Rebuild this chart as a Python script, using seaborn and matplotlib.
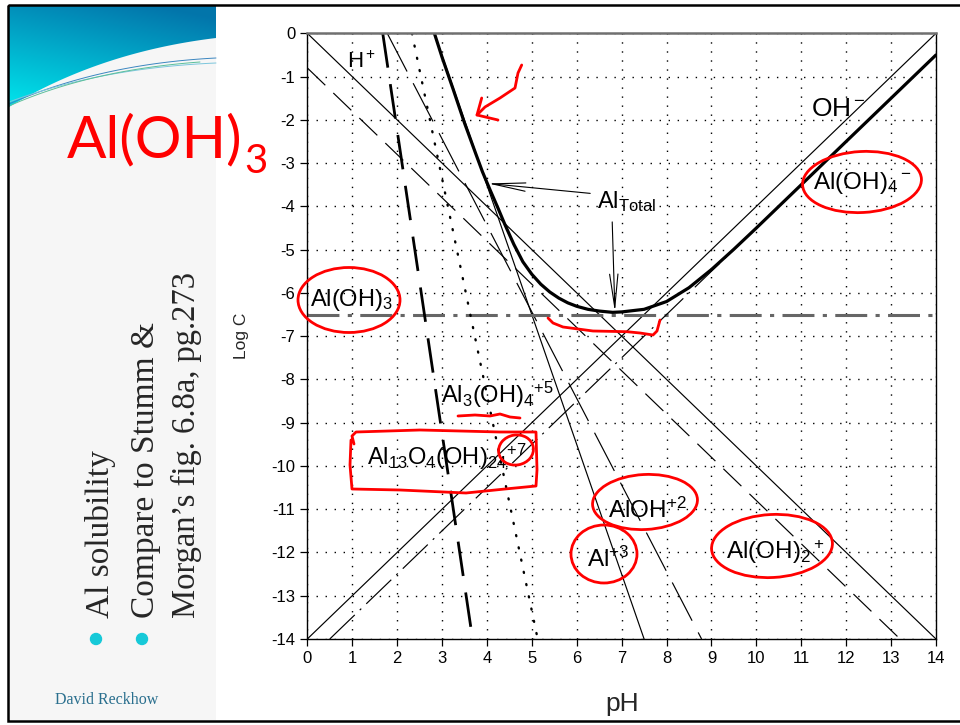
import numpy as np
import pandas as pd
import seaborn as sns
import matplotlib.pyplot as plt
from matplotlib.patches import Ellipse, Rectangle, Circle, Polygon

sns.set_style("ticks")
plt.rcParams["font.family"] = ["Liberation Sans", "DejaVu Sans"]
plt.rcParams["mathtext.fontset"] = "custom"
plt.rcParams["mathtext.rm"] = "Liberation Sans"
plt.rcParams["mathtext.it"] = "Liberation Sans:italic"
plt.rcParams["mathtext.bf"] = "Liberation Sans:bold"
plt.rcParams["mathtext.default"] = "rm"
plt.rcParams["axes.unicode_minus"] = False
plt.rcParams["lines.scale_dashes"] = False

# species lines (pH, log C)
ph_h = [0, 14]
logc_h = [0, -14]
ph_oh = [0, 14]
logc_oh = [-14, 0]
ph_al = [2.83, 7.5]
logc_al = [0, -14]
ph_aloh = [1.78, 8.78]
logc_aloh = [0, -14]
ph_aloh2 = [0, 13.2]
logc_aloh2 = [-0.8, -14]
ph_aloh3 = [0, 14]
logc_aloh3 = [-6.5, -6.5]
ph_aloh4 = [0.5, 14]
logc_aloh4 = [-14, -0.5]
ph_al3oh4 = [2.33, 5.13]
logc_al3oh4 = [0, -14]
ph_al13 = [1.68, 3.68]
logc_al13 = [0, -14]

# total dissolved Al (thick curve)
ph_total = [2.83, 3.0, 3.25, 3.5, 3.75, 3.9, 4.07, 4.25, 4.4, 4.6, 4.8, 5.0,
            5.2, 5.4, 5.6, 5.8, 6.0, 6.25, 6.5, 6.8, 7.0, 7.5, 8.0, 8.5, 9.0,
            9.5, 10.0, 11.0, 12.0, 13.0, 14.0]
logc_total = [0.0, -0.55, -1.3, -2.07, -2.78, -3.2, -3.62, -4.05, -4.42, -4.88,
              -5.28, -5.57, -5.8, -5.98, -6.12, -6.23, -6.31, -6.38, -6.42, -6.45,
              -6.44, -6.38, -6.2, -5.88, -5.46, -4.99, -4.5, -3.5, -2.5, -1.5, -0.5]

fig = plt.figure(figsize=(9.6, 7.25), dpi=100)

# ---- slide background (pixel coordinates)
bg = fig.add_axes([0, 0, 1, 1], zorder=0)
bg.set_xlim(0, 960)
bg.set_ylim(725, 0)
bg.axis("off")

bg.add_patch(Rectangle((9, 6), 207, 714, facecolor="#f6f6f6", edgecolor="none", zorder=0))


def bez(p0, p1, p2, n=60):
    t = np.linspace(0, 1, n)[:, None]
    return (1 - t) ** 2 * np.array(p0) + 2 * (1 - t) * t * np.array(p1) + t ** 2 * np.array(p2)


curve = bez((9, 107), (100, 52), (216, 38))
verts = [(9, 6), (216, 6)] + [tuple(p) for p in curve[::-1]]
clip = Polygon(verts, closed=True, facecolor="none", edgecolor="none", transform=bg.transData)
bg.add_patch(clip)
rows, cols = 120, 220
rr, cc = np.mgrid[0:rows, 0:cols]
t = np.clip(rr / rows * 0.85 + (1 - cc / cols) * 0.35 - 0.1, 0, 1)[..., None]
top_c = np.array([0.01, 0.46, 0.67])
bot_c = np.array([0.0, 0.87, 0.91])
grad = top_c * (1 - t) + bot_c * t
im = bg.imshow(grad, extent=[9, 216, 110, 6], origin="upper", aspect="auto", zorder=1)
im.set_clip_path(clip)

for p0, p1, p2, col in [((9, 104), (100, 64), (216, 58), "#3b86c0"),
                        ((9, 102), (100, 68), (216, 63), "#7cc6dc"),
                        ((9, 106), (90, 70), (200, 62), "#5bbf9a")]:
    c = bez(p0, p1, p2)
    bg.plot(c[:, 0], c[:, 1], color=col, lw=0.7, zorder=2)

bg.add_patch(Rectangle((8, 5), 960, 716, facecolor="none", edgecolor="black", lw=1.8, zorder=5))

bg.text(67, 157, "Al(OH)", color="#ff0000", fontsize=42, family="Lato", va="baseline", ha="left", zorder=6)
bg.text(244, 173, "3", color="#ff0000", fontsize=29, family="Lato", va="baseline", ha="left", zorder=6)

serif = "Liberation Serif"
bg.text(100, 618, "Al solubility", rotation=90, ha="center", va="bottom", fontsize=24, family=serif)
bg.text(146, 618, "Compare to Stumm &", rotation=90, ha="center", va="bottom", fontsize=24, family=serif)
bg.text(186, 618, "Morgan\u2019s fig. 6.8a, pg.273", rotation=90, ha="center", va="bottom", fontsize=23.5, family=serif)
bg.add_patch(Circle((96, 639), 5.5, color="#16c9d8", zorder=3))
bg.add_patch(Circle((142, 639), 5.5, color="#16c9d8", zorder=3))
bg.text(55, 700, "David Reckhow", color="#2a6f8e", fontsize=11.5, family=serif, va="center", ha="left")

# ---- chart
ax = fig.add_axes([307.3 / 960, 1 - 639 / 725, (936 - 307.3) / 960, (639 - 33.3) / 725], zorder=2)
ax.set_facecolor("white")

thin = dict(color="black", lw=0.85)
series = [
    (ph_h, logc_h, dict(thin, linestyle="-")),
    (ph_oh, logc_oh, dict(thin, linestyle="-")),
    (ph_al, logc_al, dict(thin, linestyle="-")),
    (ph_aloh, logc_aloh, dict(thin, linestyle=(0, (31, 9.5)))),
    (ph_aloh2, logc_aloh2, dict(thin, linestyle=(0, (18, 8)))),
    (ph_aloh3, logc_aloh3, dict(color="#666666", lw=2.2, linestyle=(0, (23, 6, 3, 6)))),
    (ph_aloh4, logc_aloh4, dict(thin, linestyle=(0, (25, 5, 1.5, 5)))),
    (ph_al3oh4, logc_al3oh4, dict(color="black", lw=1.7, linestyle=(0, (0.8, 8.2)), dash_capstyle="round")),
    (ph_al13, logc_al13, dict(color="black", lw=2.0, linestyle=(0, (25, 12)))),
    (ph_total, logc_total, dict(color="black", lw=2.3, linestyle="-")),
]
for xs, ys, kw in series:
    sns.lineplot(x=xs, y=ys, ax=ax, sort=False, estimator=None, **kw)

ax.set_xlim(0, 14)
ax.set_ylim(-14, 0)
ax.set_xticks(range(0, 15))
ax.set_yticks(range(-14, 1))
ax.grid(True, color="black", linestyle=(0, (1.0, 5.5)), lw=1.0)
ax.set_axisbelow(True)
for s in ["left", "bottom", "right"]:
    ax.spines[s].set_color("black")
    ax.spines[s].set_linewidth(1.0)
ax.spines["top"].set_color("#707070")
ax.spines["top"].set_linewidth(1.8)
ax.tick_params(direction="out", length=5, width=0.9, labelsize=12, colors="black")
ax.set_xlabel("pH", fontsize=19)
ax.set_ylabel("Log C", fontsize=12.5)
ax.yaxis.set_label_coords(-0.093, 0.5)
ax.xaxis.set_label_coords(0.5, -0.087)

lab = dict(ha="left", va="baseline", color="black")
ax.text(0.88, -0.81, "H$^+$", fontsize=16, **lab)
ax.text(11.21, -1.91, "OH$^-$", fontsize=19, **lab)
ax.text(11.26, -3.6, "Al(OH)$_4$$^-$", fontsize=17.5, **lab)
ax.text(0.05, -6.3, "Al(OH)$_3$", fontsize=17, **lab)
ax.text(2.97, -8.54, "Al$_3$(OH)$_4$$^{+5}$", fontsize=17, **lab)
ax.text(1.32, -9.98, "Al$_{13}$O$_4$(OH)$_{24}$$^{+7}$", fontsize=17, **lab)
ax.text(6.70, -11.19, "AlOH$^{+2}$", fontsize=17.5, **lab)
ax.text(6.22, -12.33, "Al$^{+3}$", fontsize=17.5, **lab)
ax.text(9.33, -12.16, "Al(OH)$_2$$^+$", fontsize=17.5, **lab)
ax.text(6.46, -4.04, "Al$_{\\mathrm{Total}}$", fontsize=17, **lab)
arrow = dict(arrowstyle="->,head_length=2.4,head_width=0.3", lw=0.8, color="black", shrinkA=0, shrinkB=0)
ax.annotate("", xy=(4.02, -3.47), xytext=(6.30, -3.70), arrowprops=arrow)
ax.annotate("", xy=(6.85, -6.44), xytext=(6.79, -4.36), arrowprops=arrow)

# ---- red hand-drawn marks (pixel coordinates)
ov = fig.add_axes([0, 0, 1, 1], zorder=3)
ov.set_xlim(0, 960)
ov.set_ylim(725, 0)
ov.axis("off")
ov.patch.set_alpha(0)
red = dict(color="#ff0000", lw=2.0, solid_capstyle="round", solid_joinstyle="round")
for cx, cy, w, h, a in [(862, 182, 119, 61, -3), (349, 300, 102, 65, 0), (516, 450, 35, 30, -10),
                        (645, 502, 105, 55, -3), (604, 554, 66, 58, 0), (772, 546, 121, 63, -3)]:
    ov.add_patch(Ellipse((cx, cy), w, h, angle=a, facecolor="none", edgecolor="#ff0000", lw=2.0))
box = [(354, 444), (352, 436), (356, 432), (420, 430), (500, 432), (536, 432), (537, 470),
       (536, 486), (505, 489), (466, 493), (400, 490), (352, 489), (350, 465), (351, 440)]
ov.plot([p[0] for p in box], [p[1] for p in box], **red)
squig = [(521.7, 65), (518, 73), (515, 88), (500, 98), (485, 107), (477, 115)]
ov.plot([p[0] for p in squig], [p[1] for p in squig], **red)
head = [(481.7, 98), (477, 115), (498, 120)]
ov.plot([p[0] for p in head], [p[1] for p in head], **red)
under = [(458, 416), (475, 415), (490, 416), (500, 414), (510, 417), (520, 418)]
ov.plot([p[0] for p in under], [p[1] for p in under], **red)
mini = [(548, 318), (553, 323), (563, 327), (593, 331), (627, 331.7), (640, 333), (653, 335), (657, 331), (660, 320)]
ov.plot([p[0] for p in mini], [p[1] for p in mini], **red)

fig.savefig("out.png", dpi=100)
